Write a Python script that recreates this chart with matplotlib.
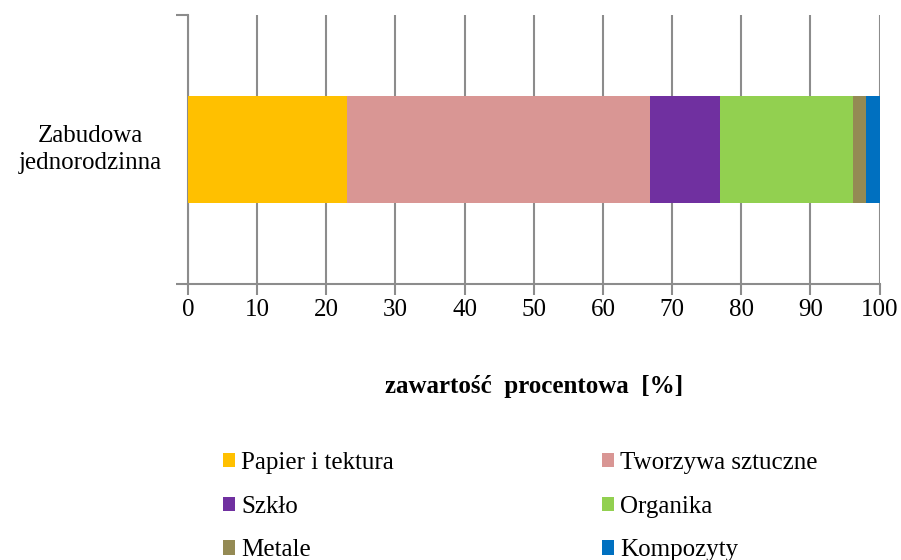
import numpy as np
import matplotlib.pyplot as plt

# udział frakcji odpadów w zabudowie jednorodzinnej [%]
category = ['Zabudowa\njednorodzinna']
fractions = ['Papier i tektura', 'Tworzywa sztuczne', 'Szkło',
             'Organika', 'Metale', 'Kompozyty']
shares = [23.0, 43.8, 10.1, 19.2, 2.0, 1.9]
colors = ['#FFC000', '#D99694', '#7030A0', '#92D050', '#948A54', '#0070C0']

plt.rcParams['font.family'] = ['Liberation Serif', 'DejaVu Serif']
grey = '#8c8c8c'
fs = 18

fig = plt.figure(figsize=(9.01, 5.6), dpi=100)
ax = fig.add_axes([0.2087, 0.493, 0.7675, 0.48])

left = 0
for name, val, col in zip(fractions, shares, colors):
    ax.barh(0, val, left=left, height=0.4, color=col, label=name, zorder=3)
    left += val

ax.set_xlim(0, 100)
ax.set_ylim(-0.5, 0.5)
ax.set_xticks(np.arange(0, 101, 10))
ax.set_yticks([-0.5, 0.5])
ax.set_yticklabels(['', ''])
ax.text(-0.141, 0.5, category[0], transform=ax.transAxes, ha='center',
        va='center', fontsize=fs, linespacing=1.3)

ax.grid(axis='x', color=grey, linewidth=1.5, zorder=0)
for s in ['top', 'right']:
    ax.spines[s].set_visible(False)
for s in ['left', 'bottom']:
    ax.spines[s].set_color(grey)
    ax.spines[s].set_linewidth(1.5)
ax.tick_params(axis='x', colors=grey, length=8, width=1.5, labelcolor='black',
               labelsize=fs, pad=3)
ax.tick_params(axis='y', colors=grey, length=9, width=1.5)

ax.set_xlabel('zawartość  procentowa  [%]', fontsize=fs, fontweight='bold',
              labelpad=39)

# kolejność wpisów jak w wierszach: para po parze
handles, labels = ax.get_legend_handles_labels()
order = [0, 2, 4, 1, 3, 5]
fig.legend([handles[i] for i in order], [labels[i] for i in order],
           loc='upper left', bbox_to_anchor=(0.247, 0.193), ncol=2,
           frameon=False, fontsize=fs, handlelength=0.5, handleheight=0.5,
           handletextpad=0.25, columnspacing=8.3, labelspacing=0.87,
           borderaxespad=0, borderpad=0)

fig.savefig('out.png', dpi=100)
